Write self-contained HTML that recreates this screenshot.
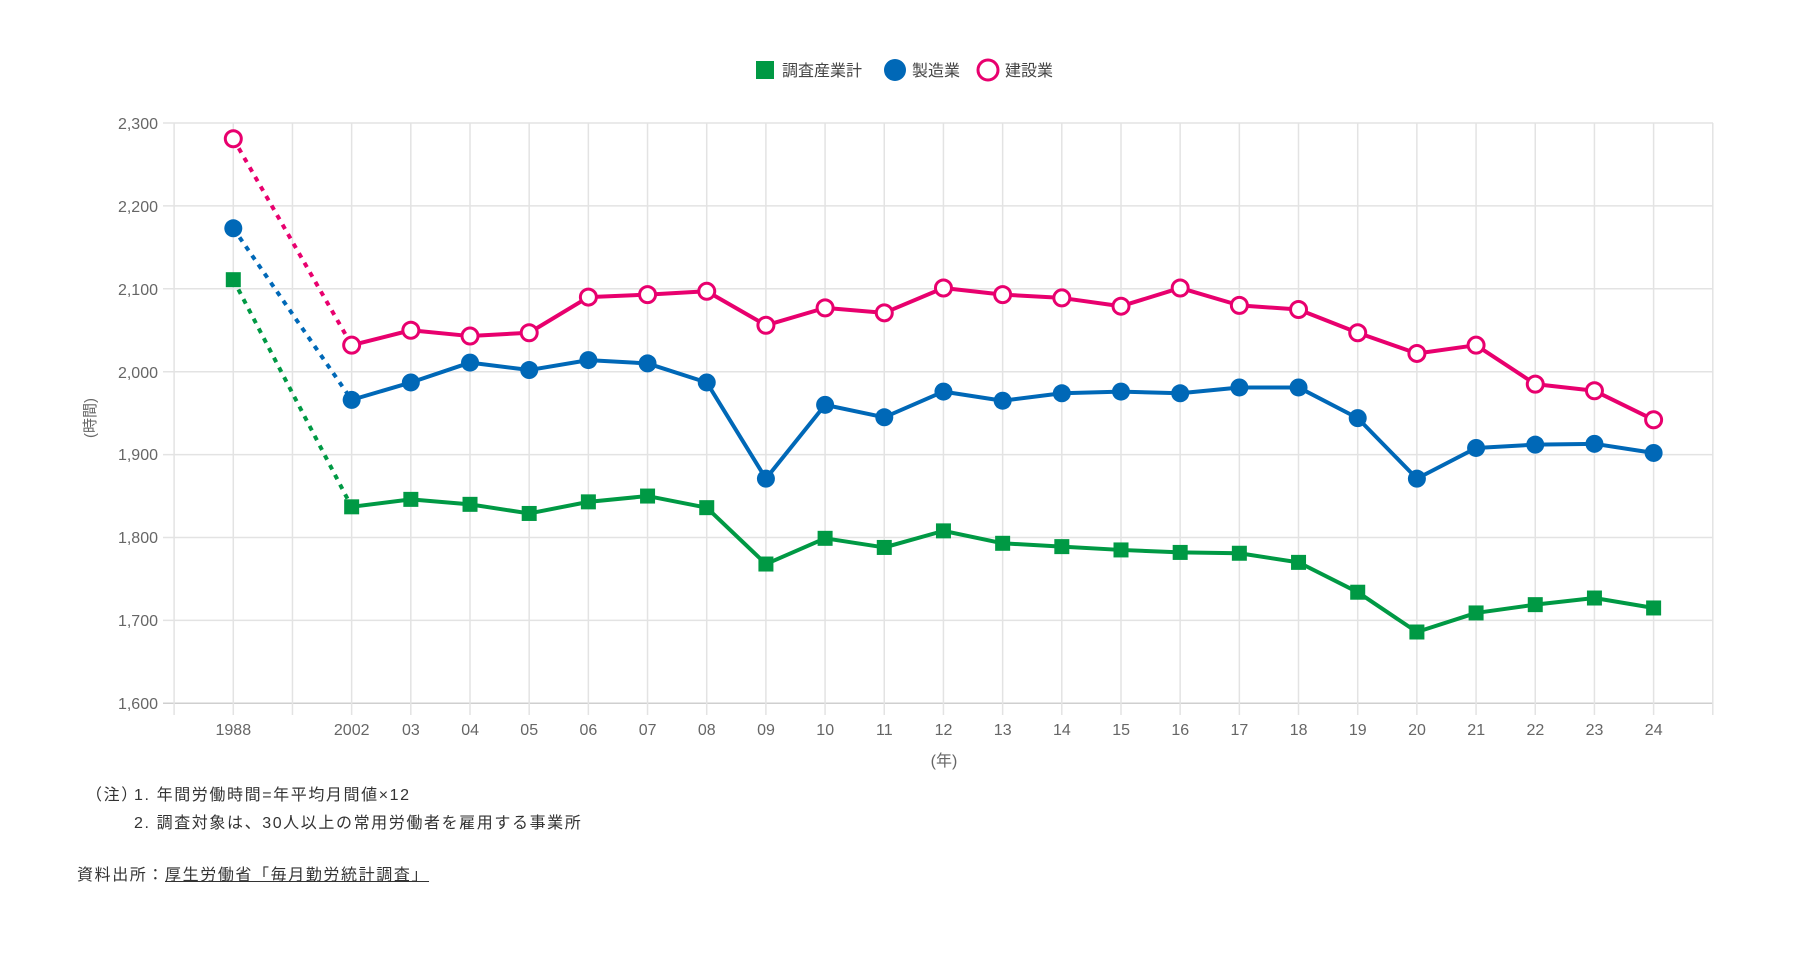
<!DOCTYPE html>
<html><head><meta charset="utf-8"><style>
body{margin:0;background:#fff;width:1800px;height:963px;overflow:hidden;font-family:"Liberation Sans","Noto Sans CJK JP",sans-serif;}
svg{position:absolute;left:0;top:0}
.n{position:absolute;font-size:16px;letter-spacing:1.6px;color:#333;white-space:nowrap}
</style></head><body>
<svg id="c" width="1800" height="963" xmlns="http://www.w3.org/2000/svg" font-family="Liberation Sans, Noto Sans CJK JP, sans-serif">
<g id="grid"></g>
<g fill="#666" font-size="16" text-anchor="end">
<text x="158" y="129">2,300</text><text x="158" y="212">2,200</text><text x="158" y="295">2,100</text><text x="158" y="378">2,000</text><text x="158" y="460">1,900</text><text x="158" y="543">1,800</text><text x="158" y="626">1,700</text><text x="158" y="709">1,600</text>
</g>
<g fill="#666" font-size="16" text-anchor="middle">
<text x="233.3" y="735">1988</text><text x="351.7" y="735">2002</text><text x="410.9" y="735">03</text><text x="470.1" y="735">04</text><text x="529.2" y="735">05</text><text x="588.4" y="735">06</text><text x="647.6" y="735">07</text><text x="706.8" y="735">08</text><text x="766" y="735">09</text><text x="825.2" y="735">10</text><text x="884.3" y="735">11</text><text x="943.5" y="735">12</text><text x="1002.7" y="735">13</text><text x="1061.9" y="735">14</text><text x="1121.1" y="735">15</text><text x="1180.3" y="735">16</text><text x="1239.4" y="735">17</text><text x="1298.6" y="735">18</text><text x="1357.8" y="735">19</text><text x="1417" y="735">20</text><text x="1476.2" y="735">21</text><text x="1535.4" y="735">22</text><text x="1594.5" y="735">23</text><text x="1653.7" y="735">24</text>
<text x="944" y="766">(年)</text>
<text x="0" y="0" transform="translate(95,418) rotate(-90)" font-size="15">(時間)</text>
</g>
<g font-size="16" fill="#444">
<rect x="756" y="61" width="18" height="18" fill="#009944"/><text x="782" y="76">調査産業計</text>
<circle cx="895" cy="70" r="11" fill="#0068b7"/><text x="912" y="76">製造業</text>
<circle cx="988" cy="70" r="10" fill="#fff" stroke="#e8006e" stroke-width="3"/><text x="1005" y="76">建設業</text>
</g>
<g id="series"></g>
</svg>
<div class="n" style="left:86px;top:781px">（注）</div>
<div class="n" style="left:134px;top:781px">1. 年間労働時間=年平均月間値×12</div>
<div class="n" style="left:134px;top:809px">2. 調査対象は、30人以上の常用労働者を雇用する事業所</div>
<div class="n" style="left:77px;top:861px">資料出所：<span style="text-decoration:underline">厚生労働省「毎月勤労統計調査」</span></div>
<script>
var NS="http://www.w3.org/2000/svg";
function el(p,t,a){var e=document.createElementNS(NS,t);for(var k in a)e.setAttribute(k,a[k]);p.appendChild(e);return e;}
function X(i){return 233.3+59.18*i;}
function Y(v){return 123+(2300-v)*0.829;}
var g=document.getElementById('grid');
for(var v=1600;v<=2300;v+=100){el(g,'line',{x1:163,x2:1713,y1:Y(v),y2:Y(v),stroke:v==1600?'#cfcfcf':'#e3e3e3','stroke-width':1.5});}
for(var i=-1;i<=25;i++){var x=174.1+59.18*(i+1);el(g,'line',{x1:x,x2:x,y1:123,y2:715,stroke:'#e3e3e3','stroke-width':1.5});}
var P=[2281,2032,2050,2043,2047,2090,2093,2097,2056,2077,2071,2101,2093,2089,2079,2101,2080,2075,2047,2022,2032,1985,1977,1942];
var B=[2173,1966,1987,2011,2002,2014,2010,1987,1871,1960,1945,1976,1965,1974,1976,1974,1981,1981,1944,1871,1908,1912,1913,1902];
var G=[2111,1837,1846,1840,1829,1843,1850,1836,1768,1799,1788,1808,1793,1789,1785,1782,1781,1770,1734,1686,1709,1719,1727,1715];
var s=document.getElementById('series');
function idx(k){return k==0?0:k+1;}
function draw(d,c,type){
 el(s,'line',{x1:X(0),y1:Y(d[0]),x2:X(2),y2:Y(d[1]),stroke:c,'stroke-width':4,'stroke-dasharray':'5,6'});
 var pts=[];for(var k=1;k<d.length;k++)pts.push(X(idx(k))+','+Y(d[k]));
 el(s,'polyline',{points:pts.join(' '),fill:'none',stroke:c,'stroke-width':4,'stroke-linejoin':'round'});
 for(var k=0;k<d.length;k++){var x=X(idx(k)),y=Y(d[k]);
  if(type==0)el(s,'rect',{x:x-7.5,y:y-7.5,width:15,height:15,fill:c});
  else if(type==1)el(s,'circle',{cx:x,cy:y,r:9,fill:c});
  else el(s,'circle',{cx:x,cy:y,r:8,fill:'#fff',stroke:c,'stroke-width':3});}
}
draw(G,'#009944',0);draw(B,'#0068b7',1);draw(P,'#e8006e',2);
</script>
</body></html>
